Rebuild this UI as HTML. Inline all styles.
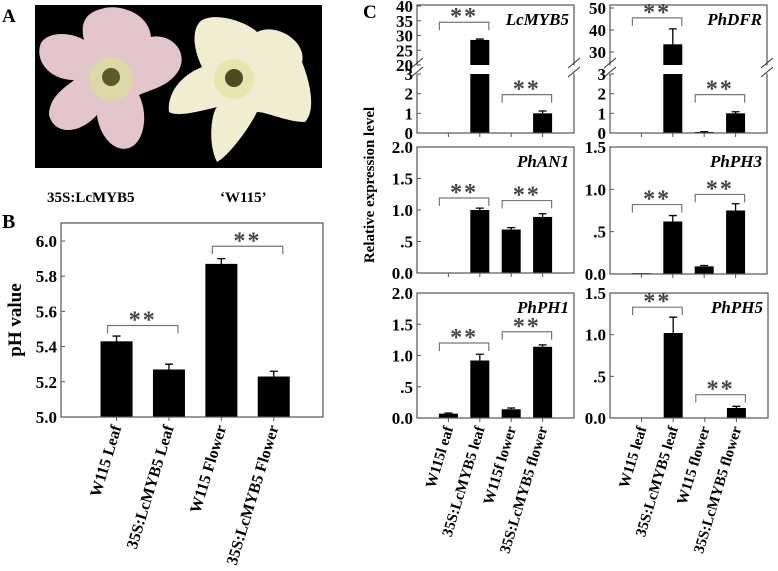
<!DOCTYPE html>
<html><head><meta charset="utf-8"><style>
html,body{margin:0;padding:0;background:#fff}
svg{display:block}
svg text{font-family:"Liberation Serif",serif;font-weight:700}
</style></head><body>
<svg id="fig" width="778" height="571" viewBox="0 0 778 571">
<g>
<text x="2" y="22" font-size="19" font-weight="bold">A</text>
<rect x="35" y="5" width="287" height="163" fill="#000"/>
<g transform="translate(109,75)">
<path d="M-8,-66 C10,-72 40,-62 42,-38 C60,-42 80,-25 70,-5 C60,12 40,15 30,20 C40,40 35,68 20,73 C5,78 -10,60 -12,40 C-30,60 -55,60 -60,40 C-60,20 -40,10 -35,5 C-60,5 -75,-15 -68,-32 C-60,-45 -35,-42 -25,-35 C-30,-55 -20,-63 -8,-66 Z" fill="#e2c6cc"/>
<circle cx="2" cy="4" r="22" fill="#ddd9a4"/><circle cx="2" cy="2" r="9" fill="#5a5a2a"/>
</g>
<g transform="translate(237,82)">
<path d="M-35,-62 C-20,-70 10,-60 20,-50 C40,-60 70,-40 65,-20 C75,5 78,30 68,40 C50,40 30,30 20,30 C10,50 -10,75 -20,80 C-30,60 -25,30 -20,25 C-40,30 -60,35 -68,30 C-70,15 -60,-5 -35,-15 C-45,-35 -45,-55 -35,-62 Z" fill="#f1edd1"/>
<circle cx="-3" cy="-3" r="20" fill="#e8e4ae"/><circle cx="-3" cy="-4" r="9" fill="#4e4a24"/>
</g>
<text x="47" y="202" font-size="15" font-weight="bold">35S:LcMYB5</text>
<text x="220" y="202" font-size="15" font-weight="bold">‘W115’</text>
</g>
<text x="2" y="228" font-size="20" font-weight="bold">B</text>
<text x="363" y="18" font-size="19" font-weight="bold">C</text>
<text transform="translate(374,185) rotate(-90)" text-anchor="middle" font-size="15" font-weight="bold">Relative expression level</text>
<text transform="translate(21,320) rotate(-90)" text-anchor="middle" font-size="19" font-weight="bold">pH value</text>
<g id="charts"></g>
</svg>
<script>
// Panel B data
const phCategories = ["W115 Leaf","35S:LcMYB5 Leaf","W115 Flower","35S:LcMYB5 Flower"];
const phValues = [5.43,5.27,5.87,5.23];
const phErrors = [0.03,0.03,0.03,0.03];
const phTicks = [5.0,5.2,5.4,5.6,5.8,6.0];
const phTickLabels = ["5.0","5.2","5.4","5.6","5.8","6.0"];
// Panel C data
const catLeft = ["W115l eaf","35S:LcMYB5 leaf","W115f lower","35S:LcMYB5 flower"];
const catRight = ["W115 leaf","35S:LcMYB5 leaf","W115 flower","35S:LcMYB5 flower"];
const lcmyb5Values = [0,28.5,0,1.0];
const lcmyb5Errors = [0,0.3,0,0.12];
const phdfrValues = [0,33.5,0.05,1.0];
const phdfrErrors = [0,7,0.02,0.08];
const phan1Values = [0,1.0,0.69,0.89];
const phan1Errors = [0,0.03,0.03,0.05];
const phph3Values = [0.01,0.62,0.09,0.75];
const phph3Errors = [0,0.07,0.01,0.08];
const phph1Values = [0.07,0.92,0.14,1.14];
const phph1Errors = [0.01,0.1,0.02,0.03];
const phph5Values = [0,1.02,0,0.12];
const phph5Errors = [0,0.19,0,0.02];
const ticks20 = [0,0.5,1.0,1.5,2.0];
const ticks20Labels = ["0.0",".5","1.0","1.5","2.0"];
const ticks15 = [0,0.5,1.0,1.5];
const ticks15Labels = ["0.0",".5","1.0","1.5"];

const NS="http://www.w3.org/2000/svg";
const root=document.getElementById('charts');
function mk(tag,attrs,parent){const e=document.createElementNS(NS,tag);for(const k in attrs)e.setAttribute(k,attrs[k]);(parent||root).appendChild(e);return e;}

function drawBracket(g,x1,x2,y,h){
  const b=mk('path',{d:`M${x1},${y+h} V${y} H${x2} V${y+h}`,fill:'none',stroke:'#777','stroke-width':1.2},g);
  
  
  const s=mk('text',{x:(x1+x2)/2,y:y+2,'text-anchor':'middle','font-size':24,fill:'#444','font-family':'"DejaVu Sans",sans-serif','font-weight':'normal','letter-spacing':'2'},g);
  s.textContent='**';
  
  
}

function panel(o){
  const g=mk('g',{});
  
  
  const n=o.values.length, slot=(o.x1-o.x0)/(n+1);
  const cx=i=>o.x0+slot*(i+1+(o.offset||0));
  o.values.forEach((v,i)=>{
    const bw=o.barW;
    if(o.brk && v>o.brk.lowMax){
      const r1=mk('rect',{x:cx(i)-bw/2,y:o.brk.lowTop,width:bw,height:o.y0-o.brk.lowTop,fill:'#000'},g);
      
      
      const r2=mk('rect',{x:cx(i)-bw/2,y:o.ys(v),width:bw,height:o.brk.upBot-o.ys(v),fill:'#000'},g);
      
      
    } else {
      const yv=o.ys(v);
      const r=mk('rect',{x:cx(i)-bw/2,y:yv,width:bw,height:Math.max(0,o.y0-yv),fill:'#000'},g);
      
      
    }
    const e=o.errors[i];
    if(e>0){
      const yt=o.ys(v+e), yb=o.ys(v);
      const l=mk('path',{d:`M${cx(i)},${yb} V${yt} M${cx(i)-4},${yt} H${cx(i)+4}`,stroke:'#000','stroke-width':1.3,fill:'none'},g);
      
      
    }
    const t=mk('line',{x1:cx(i),x2:cx(i),y1:o.y0,y2:o.y0+4,stroke:'#555'},g);
    
    
  });
  const f=mk('rect',{x:o.x0,y:o.yTop,width:o.x1-o.x0,height:o.y0-o.yTop,fill:'none',stroke:'#555','stroke-width':1.2},g);
  
  
  if(o.brk){
    mk('rect',{x:o.x0-2,y:o.brk.upBot+0.5,width:4,height:o.brk.lowTop-o.brk.upBot-1,fill:'#fff'},g);
    mk('rect',{x:o.x1-2,y:o.brk.upBot+0.5,width:4,height:o.brk.lowTop-o.brk.upBot-1,fill:'#fff'},g);
    [o.x0,o.x1].forEach(x=>{
      const m=mk('path',{d:`M${x-6},${o.brk.upBot+3} L${x+6},${o.brk.upBot-7} M${x-6},${o.brk.lowTop+3} L${x+6},${o.brk.lowTop-7}`,stroke:'#333','stroke-width':1,fill:'none'},g);
      
      
    });
  }
  o.ticks.forEach((t,i)=>{
    const y=o.ys(t);
    const tk=mk('line',{x1:o.x0,x2:o.x0+4,y1:y,y2:y,stroke:'#555'},g);
    
    
    const tl=mk('text',{x:o.x0-4,y:y+6,'text-anchor':'end','font-size':o.tickFont||17,'font-weight':'bold'},g);
    tl.textContent=o.tickLabels[i];
    
    
  });
  if(o.title){
    const tt=mk('text',{x:o.x1-5,y:o.yTop+20,'text-anchor':'end','font-size':17,'font-style':'italic','font-weight':'bold'},g);
    tt.textContent=o.title;
    
    
  }
  (o.brackets||[]).forEach(b=>drawBracket(g,cx(b[0])-9,cx(b[1])+9,o.ys(b[2]),8));
  if(o.cats){
    o.cats.forEach((c,i)=>{
      const t=mk('text',{transform:`translate(${cx(i)+5},${o.y0+10}) rotate(-73)`,'text-anchor':'end','font-size':o.catFont||16,'font-weight':'bold'},g);
      t.textContent=c;
      
      
    });
  }
  return {cx};
}
function lin(d0,d1,p0,p1){return v=>p0+(v-d0)*(p1-p0)/(d1-d0);}

(function(){
  const ys=lin(5.0,6.0,417,241);
  panel({name:'ph-chart',x0:61,x1:323,yTop:223,y0:417,ys:v=>ys(Math.max(5,v)),values:phValues,errors:phErrors,ticks:phTicks,tickLabels:phTickLabels,barW:32,offset:0.06,cats:phCategories,catFont:16,brackets:[[0,1,5.52],[2,3,5.97]]});
})();

function brokenScale(lowMax,low,up){
  return v=> v<=lowMax ? lin(0,lowMax,low[0],low[1])(v) : lin(up[0],up[1],up[2],up[3])(v);
}
panel({name:'lcmyb5-chart',title:'LcMYB5',x0:417,x1:574,yTop:5,y0:133,values:lcmyb5Values,errors:lcmyb5Errors,barW:19,
  ys:brokenScale(3,[133,74],[20,40,65,6]),brk:{lowMax:3,lowTop:74,upBot:65},
  ticks:[0,1,2,3,20,25,30,35,40],tickLabels:["0","1","2","3","20","25","30","35","40"],
  brackets:[[0,1,34.5],[2,3,1.95]]});
panel({name:'phdfr-chart',title:'PhDFR',x0:610,x1:767,yTop:5,y0:133,values:phdfrValues,errors:phdfrErrors,barW:19,
  ys:brokenScale(3,[133,74],[24.1,50,65,8]),brk:{lowMax:3,lowTop:74,upBot:65},
  ticks:[0,1,2,3,30,40,50],tickLabels:["0","1","2","3","30","40","50"],
  brackets:[[0,1,45.5],[2,3,1.95]]});
panel({name:'phan1-chart',title:'PhAN1',x0:417,x1:574,yTop:147,y0:273,values:phan1Values,errors:phan1Errors,barW:19,
  ys:lin(0,2,273,147),ticks:ticks20,tickLabels:ticks20Labels,brackets:[[0,1,1.19],[2,3,1.15]]});
panel({name:'phph3-chart',title:'PhPH3',x0:610,x1:767,yTop:147,y0:274,values:phph3Values,errors:phph3Errors,barW:19,
  ys:lin(0,1.5,274,147),ticks:ticks15,tickLabels:ticks15Labels,brackets:[[0,1,0.82],[2,3,0.94]]});
panel({name:'phph1-chart',title:'PhPH1',x0:417,x1:574,yTop:293,y0:418,values:phph1Values,errors:phph1Errors,barW:19,
  ys:lin(0,2,418,293),ticks:ticks20,tickLabels:ticks20Labels,brackets:[[0,1,1.2],[2,3,1.38]],cats:catLeft,catFont:15});
panel({name:'phph5-chart',title:'PhPH5',x0:610,x1:768,yTop:293,y0:418,values:phph5Values,errors:phph5Errors,barW:19,
  ys:lin(0,1.5,418,293),ticks:ticks15,tickLabels:ticks15Labels,brackets:[[0,1,1.33],[2,3,0.28]],cats:catRight,catFont:15});
</script>
</body></html>
